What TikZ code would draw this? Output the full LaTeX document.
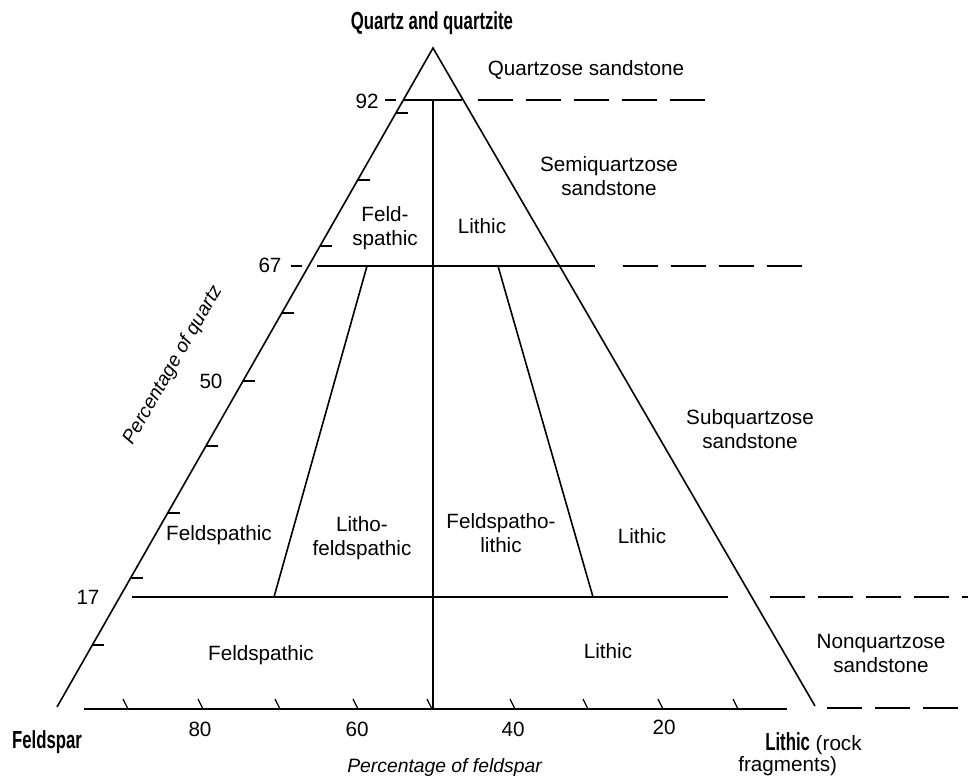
\documentclass[tikz,border=0pt]{standalone}
\usepackage{fontspec}
\setmainfont{Liberation Sans}
\newfontfamily\condfont{Liberation Sans}[FakeStretch=0.68]
\usepackage{tikz}

\begin{document}
\begin{tikzpicture}[x=0.75pt, y=-0.75pt,
    lbl/.style={font=\fontsize{15.5}{18}\selectfont, align=center, inner sep=0pt},
    corner/.style={font=\condfont\bfseries\fontsize{18.5}{20}\selectfont, inner sep=0pt},
    pct/.style={font=\itshape\fontsize{14.5}{16}\selectfont, inner sep=0pt},
    tick/.style={line width=0.9pt},
    border/.style={line width=1.2pt},
    limit/.style={line width=1.3pt, dash pattern=on 26pt off 10pt}]
    \useasboundingbox (0,0) rectangle (968,779);

    % Coordinates
    \coordinate (quartz) at (433,48);
    \coordinate (feldspar) at (57,707);
    \coordinate (lithic) at (815,706);

    % Triangle
    \draw[border] (feldspar) -- (quartz) -- (lithic);

    % Quartz limits
    \draw[border] (403,100) -- (462,100);
    \draw[border] (317,266) -- (595,266);
    \draw[border] (132,597) -- (728,597);
    \draw[border] (84,709) -- (787,709);
    \draw[limit] (478,100) -- (717,100);
    \draw[limit] (623,266) -- (815,266);
    \draw[limit] (770,597) -- (968,597);
    \draw[limit] (827,708) -- (968,708);

    % Feldspar / lithic limits
    \draw[border] (433,100) -- (433,709);
    \draw[border] (367,266) -- (274,597);
    \draw[border] (498,266) -- (593,597);

    % Ticks, quartz
    \draw[tick] (385,100) -- (396,100);
    \draw[tick] (291,266) -- (302,266);
    \draw[tick] (396,113) -- (408,113);
    \draw[tick] (358,180) -- (370,180);
    \draw[tick] (320,246) -- (332,246);
    \draw[tick] (282,313) -- (294,313);
    \draw[tick] (243,381) -- (255,381);
    \draw[tick] (206,446) -- (218,446);
    \draw[tick] (168,513) -- (180,513);
    \draw[tick] (131,578) -- (143,578);
    \draw[tick] (92,645) -- (104,645);

    % Ticks, feldspar
    \draw[tick] (123,699) -- (128,709);
    \draw[tick] (198,699) -- (203,709);
    \draw[tick] (275,699) -- (280,709);
    \draw[tick] (353,699) -- (358,709);
    \draw[tick] (427,699) -- (432,709);
    \draw[tick] (510,699) -- (515,709);
    \draw[tick] (583,699) -- (588,709);
    \draw[tick] (658,699) -- (663,709);
    \draw[tick] (733,699) -- (738,709);

    % Scale numbers
    \node[lbl] (q92) at (367,101) {92};
    \node[lbl] (q67) at (270,265) {67};
    \node[lbl] (q50) at (211,381) {50};
    \node[lbl] (q17) at (88,597) {17};
    \node[lbl] (f80) at (200,729) {80};
    \node[lbl] (f60) at (357,729) {60};
    \node[lbl] (f40) at (513,729) {40};
    \node[lbl] (f20) at (664,727) {20};

    % Axis titles
    \node[pct, rotate=60] (pq) at (173,365) {Percentage of quartz};
    \node[pct, anchor=base west] (pf) at (347,772) {Percentage of feldspar};

    % End members
    \node[corner] (qq) at (432,23) {Quartz and quartzite};
    \node[corner, anchor=base] (fs) at (47,748) {Feldspar};
    \node[lbl, anchor=base west] (lr) at (765,750) {{\condfont\bfseries\fontsize{18.5}{20}\selectfont Lithic} (rock};
    \node[lbl, anchor=base west] (lf) at (738,771) {fragments)};

    % Sandstone classes
    \node[lbl, anchor=base] (qs) at (586,75) {Quartzose sandstone};
    \node[lbl, anchor=base] (sqs) at (609,195) {Semiquartzose\\sandstone};
    \node[lbl, anchor=base] (sbs) at (750,448) {Subquartzose\\sandstone};
    \node[lbl, anchor=base] (nqs) at (881,672) {Nonquartzose\\sandstone};

    % Fields
    \node[lbl, anchor=base] (a1) at (385,245) {Feld-\\spathic};
    \node[lbl, anchor=base] (b1) at (482,233) {Lithic};
    \node[lbl, anchor=base] (a2) at (219,540) {Feldspathic};
    \node[lbl, anchor=base] (b2) at (362,555) {Litho-\\feldspathic};
    \node[lbl, anchor=base] (c2) at (501,552) {Feldspatho-\\lithic};
    \node[lbl, anchor=base] (d2) at (642,543) {Lithic};
    \node[lbl, anchor=base] (a3) at (261,660) {Feldspathic};
    \node[lbl, anchor=base] (b3) at (608,658) {Lithic};
\end{tikzpicture}
\end{document}
